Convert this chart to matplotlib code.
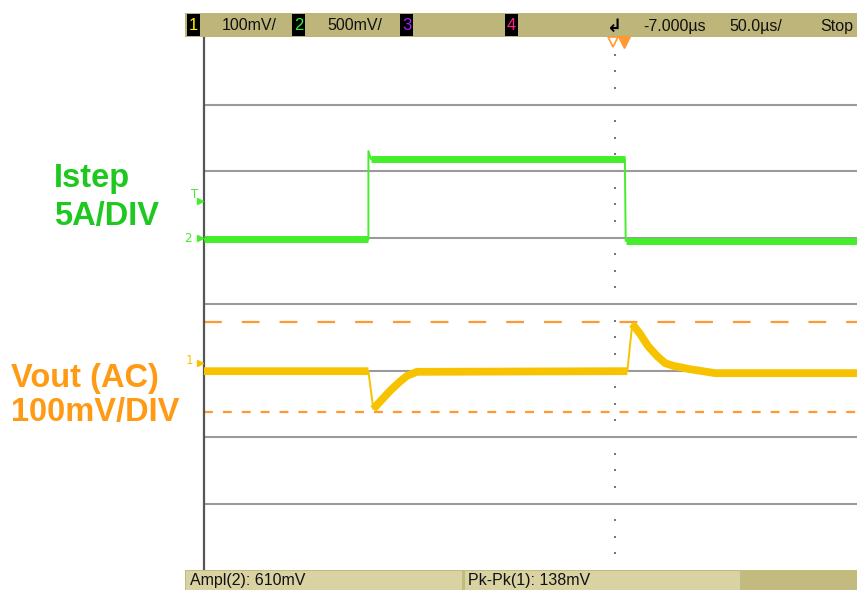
import numpy as np
import matplotlib.pyplot as plt
from matplotlib.patches import Rectangle

# screen units are divisions: x from -5 (left edge), y from -4 to 4
green_t = [-5.0, -3.0, -3.0, -2.97, 0.12, 0.13, 2.95]
green_v = [0.97, 0.97, 2.30, 2.18, 2.18, 0.95, 0.95]

yellow_t = [-5.0, -3.0, -2.94, -2.86, -2.74, -2.62, -2.53, -2.41, 0.15,
            0.21, 0.30, 0.40, 0.51, 0.61, 0.71, 0.91, 1.22, 2.95]
yellow_v = [-1.01, -1.01, -1.58, -1.47, -1.31, -1.17, -1.08, -1.02, -1.01,
            -0.30, -0.44, -0.63, -0.78, -0.89, -0.93, -0.98, -1.04, -1.04]

ref_hi = -0.27   # upper cursor
ref_lo = -1.62   # lower cursor

scale_labels = ["100mV/", "500mV/", "-7.000µs", "50.0µs/", "Stop"]
meas_labels = ["Ampl(2): 610mV", "Pk-Pk(1): 138mV"]

green_trace = '#44ee2a'
yellow_trace = '#f7c300'
green_txt = '#1ec81e'
orange_txt = '#ff9a14'
orange_dash = '#ff9a33'

W, H = 857, 590
fig = plt.figure(figsize=(W / 100, H / 100), dpi=100)
fig.patch.set_facecolor('white')

# main screen
ax = fig.add_axes([204 / W, 20 / H, 653 / W, 532 / H])
ax.set_xlim(-5, -5 + 653 / 82.2)
ax.set_ylim(-4, 4)
for s in ['top', 'right', 'bottom']:
    ax.spines[s].set_visible(False)
ax.spines['left'].set_color('#555555')
ax.spines['left'].set_linewidth(1.6)
ax.set_xticks([])
ax.set_yticks([])
for y in range(-3, 4):
    ax.axhline(y, color='#9a9a9a', lw=1.5, zorder=1)

# center axis minor dots
dots = [k / 4 for k in range(-15, 16) if k % 4 != 0]
ax.plot([0] * len(dots), dots, ls='none', marker='s', ms=1.8,
        color='#777777', mew=0, zorder=1)

# cursors
ax.axhline(ref_hi, color=orange_dash, lw=1.6, dashes=(8, 9), zorder=2)
ax.axhline(ref_lo, color=orange_dash, lw=1.6, dashes=(4, 4.5), zorder=2)


def draw_trace(t, v, color, width):
    ax.plot(t, v, color=color, lw=1.4, zorder=3)
    # thick noisy band only on the slow parts
    tt, vv = [t[0]], [v[0]]
    for i in range(1, len(t)):
        if t[i] - t[i - 1] <= 0.07:
            tt.append(np.nan)
            vv.append(np.nan)
        tt.append(t[i])
        vv.append(v[i])
    ax.plot(tt, vv, color=color, lw=width, zorder=3,
            solid_joinstyle='round', solid_capstyle='butt')


draw_trace(green_t, green_v, green_trace, 5.0)
draw_trace(yellow_t, yellow_v, yellow_trace, 5.6)

# overlay in pixel coords for the scope bars and labels
ov = fig.add_axes([0, 0, 1, 1], zorder=5)
ov.set_xlim(0, W)
ov.set_ylim(H, 0)
ov.axis('off')

ov.add_patch(Rectangle((185, 13), W - 185, 24, color='#bdb57a', lw=0))
boxes = [(187, '1', '#ffee00'), (292, '2', '#33ee33'),
         (400, '3', '#aa22ff'), (505, '4', '#ff2288')]
for x, n, c in boxes:
    ov.add_patch(Rectangle((x, 14), 13, 22, color='black', lw=0))
    ov.text(x + 6.5, 25.5, n, color=c, fontsize=12, ha='center', va='center',
            family='Liberation Sans')
for x, s in zip([222, 327, 643, 729, 820], scale_labels):
    ov.text(x, 26, s, fontsize=11.5, ha='left', va='center',
            family='Liberation Sans', color='#111111')
ov.text(615, 27, '↲', fontsize=13, ha='center', va='center',
        color='black', fontweight='bold')
ov.plot([613], [42], marker='v', ms=7, mfc='white', mec=orange_dash, mew=1.2)
ov.plot([624], [42], marker='v', ms=8, color=orange_dash)

ov.add_patch(Rectangle((185, 570), W - 185, 20, color='#c3ba80', lw=0))
ov.add_patch(Rectangle((186, 571), 276, 19, color='#d9d2a3', lw=0))
ov.add_patch(Rectangle((465, 571), 275, 19, color='#d9d2a3', lw=0))
ov.text(190, 580, meas_labels[0], fontsize=11.5, va='center',
        family='Liberation Sans', color='#111111')
ov.text(468, 580, meas_labels[1], fontsize=11.5, va='center',
        family='Liberation Sans', color='#111111')

# channel markers
ov.text(191, 195, 'T', color=green_trace, fontsize=8.5, va='center')
ov.text(184, 238, '2', color=green_trace, fontsize=8.5, va='center')
ov.text(186, 361, '1', color=yellow_trace, fontsize=8.5, va='center')
ov.plot([200], [201], marker='>', ms=4, color=green_trace)
ov.plot([200], [238], marker='>', ms=4, color=green_trace)
ov.plot([200], [363], marker='>', ms=4, color=yellow_trace)

# channel captions
bold = dict(fontsize=23.5, fontweight='bold', family='Liberation Sans', va='center')
ov.text(54, 179, 'Istep', color=green_txt, **bold)
ov.text(54, 216, '5A/DIV', color=green_txt, **bold)
ov.text(11, 379, 'Vout (AC)', color=orange_txt, **bold)
ov.text(11, 413, '100mV/DIV', color=orange_txt, **bold)

fig.savefig('out.png', dpi=100)
